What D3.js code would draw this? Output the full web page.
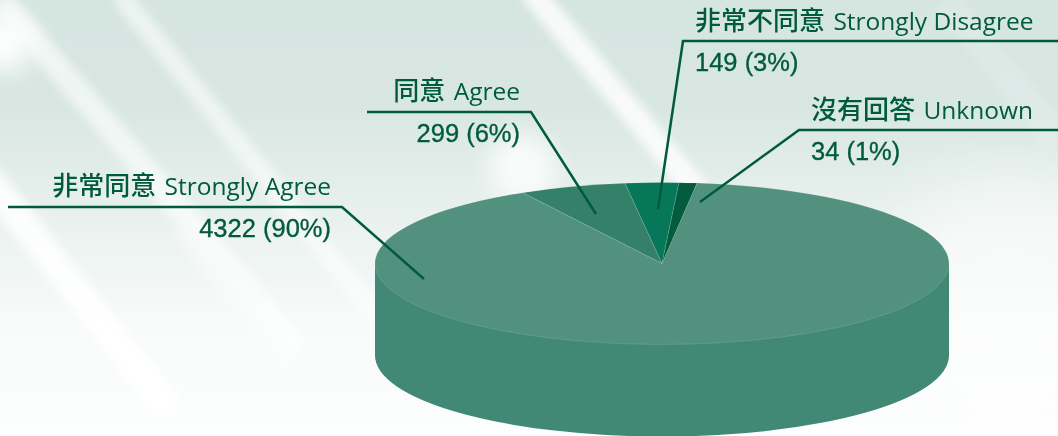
<!DOCTYPE html>
<html>
<head>
<meta charset="utf-8">
<script src="https://cdn.jsdelivr.net/npm/d3@7"></script>
<style>
html, body { margin: 0; padding: 0; background: #fff; }
svg { display: block; }
</style>
</head>
<body>
<svg id="chart" width="1058" height="436"></svg>
<script>
// values
var namesZh = ["非常同意", "同意", "非常不同意", "沒有回答"];
var namesEn = ["Strongly Agree", "Agree", "Strongly Disagree", "Unknown"];
var counts = [4322, 299, 149, 34];
var percents = [90, 6, 3, 1];
var sliceColors = ["#52917e", "#348069", "#07775a", "#025c3d"];

var width = 1058, height = 436;
var cx = 662, cy = 263.5, rx = 287, ry = 81, depth = 92;
var inkColor = "#005b3e", sideColor = "#428975";

// callouts: elbow line + text anchor for each slice, same order as the arrays
var callouts = [
    { line: [[8, 207], [342, 207], [424, 279]], x: 331, anchor: "end", nameY: 195, valueY: 237 },
    { line: [[367, 112], [531, 112], [596, 214]], x: 520, anchor: "end", nameY: 100, valueY: 142 },
    { line: [[1058, 41], [683, 41], [658, 209]], x: 695, anchor: "start", nameY: 30, valueY: 71 },
    { line: [[1058, 130], [799, 130], [700, 202]], x: 811, anchor: "start", nameY: 119, valueY: 160 }
];

// background streaks [x1, y1, x2, y2, stroke width, opacity]
var streaks = [
    [0, 0, 300, 350, 24, 0.6],
    [-15, 175, 170, 410, 30, 0.85],
    [120, -5, 380, 320, 20, 0.55],
    [530, -10, 705, 200, 24, 0.8],
    [945, 0, 1058, 140, 30, 0.15],
    [175, 230, 290, 370, 16, 0.3]
];
var glows = [[4, 42, 30, 0.95], [522, 168, 34, 0.8], [1010, 300, 130, 0.5]];

var svg = d3.select("#chart");
var defs = svg.append("defs");

var grad = defs.append("linearGradient").attr("id", "bg")
    .attr("x1", 0).attr("y1", 0).attr("x2", 0).attr("y2", 1);
grad.selectAll("stop")
    .data([[0, "#d5e5e0"], [0.25, "#d9e7e3"], [0.5, "#e9f1ee"], [0.75, "#f8fbfa"], [1, "#fdfefe"]])
    .enter().append("stop")
    .attr("offset", function (d) { return d[0]; })
    .attr("stop-color", function (d) { return d[1]; });

defs.append("filter").attr("id", "blur").attr("x", "-30%").attr("y", "-30%").attr("width", "160%").attr("height", "160%")
    .append("feGaussianBlur").attr("stdDeviation", 5);
defs.append("filter").attr("id", "blurMid").attr("x", "-60%").attr("y", "-60%").attr("width", "220%").attr("height", "220%")
    .append("feGaussianBlur").attr("stdDeviation", 12);
defs.append("filter").attr("id", "blurBig").attr("x", "-50%").attr("y", "-50%").attr("width", "200%").attr("height", "200%")
    .append("feGaussianBlur").attr("stdDeviation", 30);

svg.append("rect").attr("width", width).attr("height", height).attr("fill", "url(#bg)");

svg.append("g").attr("filter", "url(#blur)").selectAll("line")
    .data(streaks).enter().append("line")
    .attr("x1", function (d) { return d[0]; })
    .attr("y1", function (d) { return d[1]; })
    .attr("x2", function (d) { return d[2]; })
    .attr("y2", function (d) { return d[3]; })
    .attr("stroke", "#fff")
    .attr("stroke-width", function (d) { return d[4]; })
    .attr("opacity", function (d) { return d[5]; });

svg.append("g").selectAll("circle")
    .data(glows).enter().append("circle")
    .attr("cx", function (d) { return d[0]; })
    .attr("cy", function (d) { return d[1]; })
    .attr("r", function (d) { return d[2]; })
    .attr("fill", "#fff")
    .attr("opacity", function (d) { return d[3]; })
    .attr("filter", function (d) { return d[2] > 50 ? "url(#blurBig)" : "url(#blurMid)"; });

// pie drawn on a unit circle, then squashed to an ellipse
var start = 7 * Math.PI / 180;
var pie = d3.pie().sort(null).startAngle(start).endAngle(start + 2 * Math.PI);
var arcs = pie(percents);
var arc = d3.arc().innerRadius(0).outerRadius(1);

function squash(g, y) {
    return g.attr("transform", "translate(" + cx + "," + y + ") scale(" + rx + "," + ry + ")");
}

// side wall: bottom half of the ellipse plus the block up to the top face
// (+1 on the block so no seam shows where it meets the half ellipse)
var frontHalf = arc({ startAngle: Math.PI / 2, endAngle: 3 * Math.PI / 2 });
svg.append("rect")
    .attr("x", cx - rx).attr("y", cy)
    .attr("width", 2 * rx).attr("height", depth + 1)
    .attr("fill", sideColor);
squash(svg.append("g"), cy + depth).append("path")
    .attr("d", frontHalf)
    .attr("fill", sideColor);

var topFace = squash(svg.append("g"), cy);
topFace.selectAll("path")
    .data(arcs).enter().append("path")
    .attr("d", arc)
    .attr("fill", function (d, i) { return sliceColors[i]; })
    .attr("stroke", "#fff")
    .attr("stroke-opacity", 0.2)
    .attr("stroke-width", 0.6)
    .attr("vector-effect", "non-scaling-stroke");

svg.append("g").selectAll("path")
    .data(callouts).enter().append("path")
    .attr("d", function (d) { return d3.line()(d.line); })
    .attr("fill", "none")
    .attr("stroke", inkColor)
    .attr("stroke-width", 2.5);

var labels = svg.append("g").selectAll("g")
    .data(callouts).enter().append("g")
    .attr("fill", inkColor);

var nameText = labels.append("text")
    .attr("x", function (d) { return d.x; })
    .attr("y", function (d) { return d.nameY; })
    .attr("text-anchor", function (d) { return d.anchor; });
nameText.append("tspan")
    .attr("font-family", "'Noto Sans CJK TC'")
    .attr("font-size", 26)
    .attr("font-weight", 500)
    .text(function (d, i) { return namesZh[i]; });
nameText.append("tspan")
    .attr("font-family", "'Open Sans'")
    .attr("font-size", 24.5)
    .attr("dx", 2)
    .text(function (d, i) { return " " + namesEn[i]; });

labels.append("text")
    .attr("x", function (d) { return d.x; })
    .attr("y", function (d) { return d.valueY; })
    .attr("text-anchor", function (d) { return d.anchor; })
    .attr("font-family", "'Liberation Sans'")
    .attr("font-size", 25.5)
    .attr("stroke", inkColor)
    .attr("stroke-width", 0.35)
    .text(function (d, i) { return counts[i] + " (" + percents[i] + "%)"; });
</script>
</body>
</html>
